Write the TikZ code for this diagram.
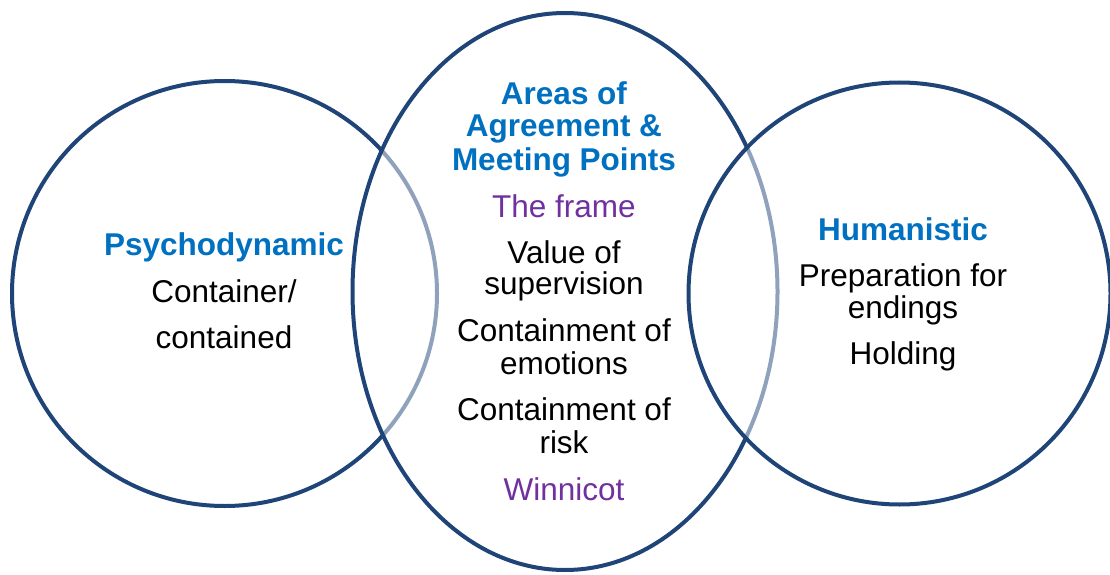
\documentclass[tikz,border=0pt]{standalone}
\usepackage{fontspec}
\setmainfont{Liberation Sans}
\definecolor{ringblue}{HTML}{1F4478}
\definecolor{headblue}{HTML}{0070C0}
\definecolor{notepurple}{HTML}{7030A0}
\begin{document}
\begin{tikzpicture}[x=1pt,y=-1pt,
  ring/.style={draw=ringblue,line width=4pt},
  head/.style={anchor=base,inner sep=0pt,text=headblue,font=\fontsize{31.5}{33}\selectfont\bfseries},
  body/.style={anchor=base,inner sep=0pt,text=black,font=\fontsize{31.5}{33}\selectfont},
  note/.style={anchor=base,inner sep=0pt,text=notepurple,font=\fontsize{31.5}{33}\selectfont}]
\useasboundingbox (0,0) rectangle (1110,575);
\fill[white] (0,0) rectangle (1110,575);
% circles
\path[ring,fill=white] (224.5,293.5) circle[radius=212.5];
\path[ring,fill=white,fill opacity=0.5] (565,291.5) ellipse[x radius=212.5,y radius=278.5];
\path[ring,fill=white,fill opacity=0.5] (899.5,293.5) circle[radius=211];
% left
\node[head] (psy) at (224,255) {Psychodynamic};
\node[body] (cont1) at (224,302) {Container/};
\node[body] (cont2) at (224,348) {contained};
% middle
\node[head] (ar1) at (564,105) {Areas of};
\node[head] (ar2) at (564,136) {Agreement \&};
\node[head] (ar3) at (564,170) {Meeting Points};
\node[note] (frame) at (564,217) {The frame};
\node[body] (val1) at (564,263) {Value of};
\node[body] (val2) at (564,294) {supervision};
\node[body] (emo1) at (564,341) {Containment of};
\node[body] (emo2) at (564,374) {emotions};
\node[body] (risk1) at (564,420) {Containment of};
\node[body] (risk2) at (564,453) {risk};
\node[note] (win) at (564,500) {Winnicot};
% right
\node[head] (hum) at (903,240) {Humanistic};
\node[body] (prep1) at (903,286) {Preparation for};
\node[body] (prep2) at (903,318) {endings};
\node[body] (hold) at (903,364) {Holding};
\end{tikzpicture}
\end{document}
